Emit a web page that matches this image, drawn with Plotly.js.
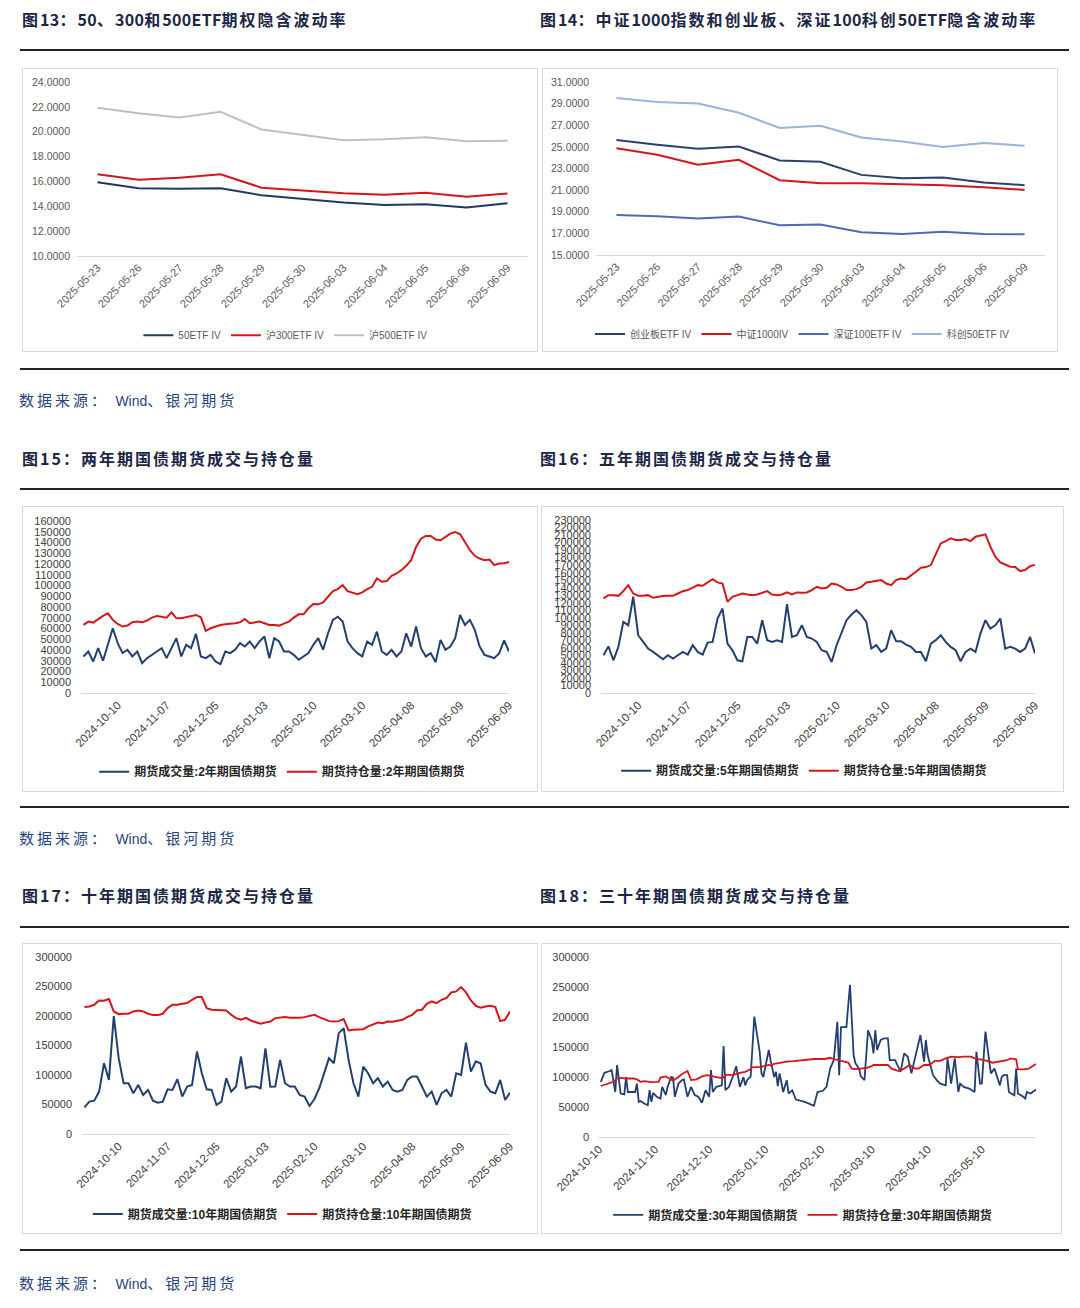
<!DOCTYPE html>
<html><head><meta charset="utf-8">
<script src="https://cdn.plot.ly/plotly-3.0.1.min.js"></script>
<style>
body{margin:0;background:#fff;width:1080px;height:1308px;position:relative;overflow:hidden;font-family:"Noto Sans CJK SC",sans-serif;}
.hdr{position:absolute;font-weight:700;font-size:16px;color:#1c2747;letter-spacing:2px;white-space:nowrap;line-height:20px;}
.hdr .n{letter-spacing:0.3px;}
.src{position:absolute;left:19px;font-size:15px;color:#2a4482;white-space:nowrap;line-height:20px;letter-spacing:3px;}
.src .w{letter-spacing:0;font-family:"Liberation Sans",Arial,sans-serif;font-size:14px;}
.rule{position:absolute;left:20px;width:1049px;height:2px;background:#222;}
.box{position:absolute;border:1px solid #d9d9d9;box-sizing:border-box;}
.plot{position:absolute;}
</style></head><body>

<div class="hdr" style="left:22px;top:9px;">图<span class="n">13</span>：<span class="n">50</span>、<span class="n">300</span>和<span class="n">500ETF</span>期权隐含波动率</div>
<div class="hdr" style="left:540px;top:9px;">图<span class="n">14</span>：中证<span class="n">1000</span>指数和创业板、深证<span class="n">100</span>科创<span class="n">50ETF</span>隐含波动率</div>
<div class="rule" style="top:49px;"></div>
<div class="box" style="left:22px;top:68px;width:516px;height:284px;"></div>
<div class="box" style="left:542px;top:68px;width:516px;height:284px;"></div>
<div id="c13" class="plot" style="left:22px;top:68px;width:516px;height:284px;"></div>
<div id="c14" class="plot" style="left:542px;top:68px;width:516px;height:284px;"></div>
<div class="rule" style="top:368px;"></div>
<div class="src" style="top:390px;">数据来源：&nbsp;<span class="w">Wind</span>、银河期货</div>

<div class="hdr" style="left:22px;top:448px;">图15：两年期国债期货成交与持仓量</div>
<div class="hdr" style="left:540px;top:448px;">图16：五年期国债期货成交与持仓量</div>
<div class="rule" style="top:488px;"></div>
<div class="box" style="left:22px;top:506px;width:516px;height:286px;"></div>
<div class="box" style="left:541px;top:506px;width:523px;height:286px;"></div>
<div id="c15" class="plot" style="left:22px;top:506px;width:516px;height:286px;"></div>
<div id="c16" class="plot" style="left:541px;top:506px;width:523px;height:286px;"></div>
<div class="rule" style="top:806px;"></div>
<div class="src" style="top:828px;">数据来源：&nbsp;<span class="w">Wind</span>、银河期货</div>

<div class="hdr" style="left:22px;top:885px;">图17：十年期国债期货成交与持仓量</div>
<div class="hdr" style="left:540px;top:885px;">图18：三十年期国债期货成交与持仓量</div>
<div class="rule" style="top:926px;"></div>
<div class="box" style="left:22px;top:943px;width:516px;height:291px;"></div>
<div class="box" style="left:541px;top:943px;width:521px;height:291px;"></div>
<div id="c17" class="plot" style="left:22px;top:943px;width:516px;height:291px;"></div>
<div id="c18" class="plot" style="left:541px;top:943px;width:521px;height:291px;"></div>
<div class="rule" style="top:1249px;"></div>
<div class="src" style="top:1273px;">数据来源：&nbsp;<span class="w">Wind</span>、银河期货</div>

<script>
// ---------------- data ----------------
const ivDates = ['2025-05-23','2025-05-26','2025-05-27','2025-05-28','2025-05-29','2025-05-30','2025-06-03','2025-06-04','2025-06-05','2025-06-06','2025-06-09'];
const iv50   = [15.93,15.45,15.42,15.45,14.89,14.60,14.30,14.11,14.17,13.90,14.25];
const iv300  = [16.57,16.14,16.30,16.57,15.50,15.29,15.05,14.92,15.08,14.76,15.02];
const iv500  = [21.92,21.49,21.14,21.60,20.18,19.72,19.32,19.40,19.56,19.24,19.27];
const ivCyb  = [25.63,25.19,24.82,25.04,23.74,23.62,22.41,22.10,22.17,21.70,21.46];
const iv1000 = [24.88,24.27,23.34,23.80,21.92,21.64,21.64,21.52,21.46,21.27,21.02];
const ivSz100= [18.71,18.58,18.37,18.55,17.75,17.81,17.10,16.95,17.16,16.95,16.92];
const ivKc50 = [29.52,29.15,29.02,28.16,26.74,26.95,25.87,25.50,24.98,25.35,25.10];

const tdDates = ['2024-09-11','2024-09-13','2024-09-19','2024-09-23','2024-09-25','2024-09-27','2024-10-08','2024-10-10','2024-10-14','2024-10-16',
 '2024-10-18','2024-10-22','2024-10-24','2024-10-28','2024-10-30','2024-11-01','2024-11-05','2024-11-07','2024-11-11','2024-11-13',
 '2024-11-15','2024-11-19','2024-11-21','2024-11-25','2024-11-27','2024-11-29','2024-12-03','2024-12-05','2024-12-09','2024-12-11',
 '2024-12-13','2024-12-17','2024-12-19','2024-12-23','2024-12-25','2024-12-27','2024-12-31','2025-01-03','2025-01-07','2025-01-09',
 '2025-01-13','2025-01-15','2025-01-17','2025-01-21','2025-01-23','2025-01-27','2025-02-06','2025-02-10','2025-02-12','2025-02-14',
 '2025-02-18','2025-02-20','2025-02-24','2025-02-26','2025-02-28','2025-03-04','2025-03-06','2025-03-10','2025-03-12','2025-03-14',
 '2025-03-18','2025-03-20','2025-03-24','2025-03-26','2025-03-28','2025-04-01','2025-04-03','2025-04-08','2025-04-10','2025-04-14',
 '2025-04-16','2025-04-18','2025-04-22','2025-04-24','2025-04-28','2025-04-30','2025-05-07','2025-05-09','2025-05-13','2025-05-15',
 '2025-05-19','2025-05-21','2025-05-23','2025-05-27','2025-05-29','2025-06-03','2025-06-05','2025-06-09'];
const tdTicks = ['2024-10-10','2024-11-07','2024-12-05','2025-01-03','2025-02-10','2025-03-10','2025-04-08','2025-05-09','2025-06-09'];

const vol2y = [34000,38600,29300,41700,30000,44800,60200,46300,37100,40200,
 34000,38600,27800,32400,35500,38600,41700,32400,41700,51000,
 34000,44800,41700,55000,34000,32400,35500,29300,26900,38600,
 37100,40200,46300,43200,47900,41700,47900,52500,32400,51000,
 47900,38600,38600,35500,30900,34000,37100,44800,51000,40200,
 55600,68000,71000,66400,47900,41700,37100,34000,47900,44800,
 57100,38600,35500,40200,34000,38600,55600,43200,61800,41700,
 34000,37100,28700,49400,40200,43200,51000,72600,63300,68000,
 58700,43200,35500,34000,32400,37100,49000,38600];
const oi2y = [63300,66400,65500,68900,71700,74100,68000,64200,61800,62700,
 65800,66400,65800,67300,70100,71700,70700,70100,75000,69500,
 69500,70700,71700,72600,70400,57800,60200,62100,63300,63900,
 64200,64900,65800,68900,64900,65500,66400,64900,63300,63300,
 62700,64600,66400,70100,73200,73200,78800,82800,82500,84300,
 89600,94800,96700,100400,94800,93600,92000,93600,96700,98800,
 106600,103500,104100,109000,111200,114300,118300,123600,135900,143600,
 146100,146100,142700,142100,145200,148300,149800,147600,140500,132800,
 127600,125100,123600,124200,118900,120500,120800,122000];

const vol5y = [50200,62000,43500,61300,94600,90100,128000,76800,67900,59000,
 54600,50200,44800,50200,45700,50200,54600,51100,63500,54600,
 51100,67000,67900,99000,112300,65700,56800,43500,42200,74600,
 74600,65700,96800,70200,67900,70200,67900,118000,74600,76800,
 90100,74600,72400,67900,56800,54600,41300,63500,80400,96800,
 104400,110100,103500,94600,59000,63500,54600,59000,83500,68800,
 68800,64400,61300,54600,54600,42200,65700,70200,76800,67900,
 61300,56800,42200,54600,59000,54600,79000,96800,85700,90100,
 99000,59000,61300,59000,54600,59000,74600,52400];
const oi5y = [125700,130100,130100,129200,135400,143400,132300,129200,129200,130100,
 126600,127900,128800,129200,129200,132300,135400,136800,139900,143400,
 142500,147000,151400,147000,145600,121200,127900,130100,132300,131000,
 130100,131000,133700,135400,131000,130100,131000,133700,131000,133700,
 133200,133700,136800,141200,139000,139900,145600,144300,141200,136800,
 136800,138100,141200,147000,147900,148800,150100,145600,143400,150100,
 152300,151400,155900,161200,166500,167400,170100,183400,198900,202000,
 205600,203400,203400,204700,202000,207800,209100,210900,194500,181200,
 173600,171000,167900,167400,162100,163400,168700,170100];

const vol10y = [45000,54900,56600,71900,120000,91700,200000,128500,86000,86000,
 69000,83200,66200,74700,56600,53200,54900,75800,74700,92800,
 63400,80400,83200,139800,103000,75800,74700,49200,54900,94500,
 71900,80400,131300,77500,80400,80400,77500,145000,80000,80400,
 125600,86000,80400,80400,66200,63400,47500,58900,77500,103000,
 128500,120000,171000,179400,125600,86000,63400,114300,103000,86000,
 94500,80400,88900,74700,71900,74700,91700,97400,97400,80400,
 63400,71900,49200,69000,74700,63400,103000,100000,155000,105800,
 122800,120000,83200,71900,69000,91700,57700,70200];
const oi10y = [215100,216200,219000,226400,225800,228700,207700,203200,203800,203800,
 207700,209400,207700,203800,201500,201500,203800,213400,219000,219000,
 220700,221900,227500,232100,232100,213400,210600,210600,210600,209400,
 202000,196400,193600,197000,192400,189000,186800,189000,190700,196400,
 197500,198100,197000,196400,197000,198100,200400,202000,198100,194700,
 191300,190700,191300,194700,175500,176600,176600,177700,182300,185100,
 189000,187900,190700,190200,191300,193600,198100,202000,209400,210600,
 220700,224700,221900,227500,230400,240000,241700,249000,240000,226400,
 217300,213900,216200,217300,215100,191300,193600,207700];

const vol30yDates = ['2024-10-11','2024-10-13','2024-10-16','2024-10-17','2024-10-19','2024-10-20','2024-10-22','2024-10-24','2024-10-25','2024-10-26',
 '2024-10-30','2024-10-31','2024-11-01','2024-11-02','2024-11-04','2024-11-06','2024-11-07','2024-11-08','2024-11-09','2024-11-11',
 '2024-11-13','2024-11-14','2024-11-16','2024-11-17','2024-11-19','2024-11-20','2024-11-21','2024-11-23','2024-11-25','2024-11-26',
 '2024-11-28','2024-11-30','2024-12-02','2024-12-04','2024-12-06','2024-12-08','2024-12-10','2024-12-11','2024-12-12','2024-12-14',
 '2024-12-17','2024-12-18','2024-12-19','2024-12-21','2024-12-23','2024-12-25','2024-12-27','2024-12-29','2024-12-30','2024-12-31',
 '2025-01-02','2025-01-04','2025-01-07','2025-01-08','2025-01-09','2025-01-12','2025-01-13','2025-01-15','2025-01-16','2025-01-17',
 '2025-01-18','2025-01-20','2025-01-22','2025-01-23','2025-01-25','2025-01-27','2025-02-01','2025-02-06','2025-02-08','2025-02-11',
 '2025-02-13','2025-02-15','2025-02-17','2025-02-19','2025-02-20','2025-02-21','2025-02-24','2025-02-26','2025-02-28','2025-03-01',
 '2025-03-03','2025-03-04','2025-03-06','2025-03-08','2025-03-10','2025-03-11','2025-03-12','2025-03-13','2025-03-15','2025-03-17',
 '2025-03-19','2025-03-20','2025-03-23','2025-03-26','2025-03-28','2025-03-30','2025-04-01','2025-04-04','2025-04-06','2025-04-08',
 '2025-04-09','2025-04-10','2025-04-13','2025-04-15','2025-04-17','2025-04-20','2025-04-21','2025-04-23','2025-04-25','2025-04-27',
 '2025-04-28','2025-04-30','2025-05-03','2025-05-06','2025-05-07','2025-05-09','2025-05-10','2025-05-12','2025-05-14','2025-05-15',
 '2025-05-17','2025-05-20','2025-05-21','2025-05-22','2025-05-24','2025-05-25','2025-05-27','2025-05-28','2025-05-29','2025-05-30',
 '2025-06-02','2025-06-03','2025-06-04','2025-06-06','2025-06-09'];
const vol30y = [92000,107000,110000,111500,75000,120000,72500,71000,100000,75000,
 75000,89000,58500,60000,55800,53000,78000,58500,73600,67000,
 64000,83600,69700,83600,100000,99000,67000,89000,94800,96000,
 67000,83600,69700,67000,57000,78000,67000,111500,75000,83600,
 86000,151700,78000,83600,100000,118000,83600,100000,86000,94800,
 101000,200700,142000,106000,100000,145000,128000,100000,108700,84800,
 106000,75000,94800,72500,78000,62500,58500,51900,75000,77000,
 83600,114000,128000,192000,103000,183000,183000,253700,136600,122700,
 114000,101000,94800,178000,161700,139400,178000,145000,161700,164500,
 164500,128000,128000,108700,139400,133800,106000,147800,170000,125500,
 161700,136600,103000,94800,89000,86000,131000,89000,131000,75000,
 89000,83600,80800,75000,142000,89000,89000,175600,122700,106000,
 114000,86000,100000,103000,103000,75000,71400,69700,114000,72500,
 67000,64000,75000,72500,79000];
const oi30yDates = ['2024-10-11','2024-10-15','2024-10-18','2024-10-20','2024-10-21','2024-10-25','2024-10-29','2024-10-31','2024-11-02','2024-11-04',
 '2024-11-08','2024-11-12','2024-11-13','2024-11-16','2024-11-18','2024-11-20','2024-11-23','2024-11-25','2024-11-28','2024-11-30',
 '2024-12-03','2024-12-06','2024-12-09','2024-12-13','2024-12-16','2024-12-18','2024-12-19','2024-12-23','2024-12-27','2024-12-30',
 '2025-01-01','2025-01-03','2025-01-08','2025-01-12','2025-01-13','2025-01-15','2025-01-18','2025-01-22','2025-01-26','2025-02-01',
 '2025-02-06','2025-02-12','2025-02-15','2025-02-17','2025-02-21','2025-02-25','2025-02-27','2025-03-01','2025-03-04','2025-03-07',
 '2025-03-10','2025-03-11','2025-03-15','2025-03-19','2025-03-21','2025-03-23','2025-03-25','2025-03-28','2025-03-31','2025-04-03',
 '2025-04-05','2025-04-08','2025-04-11','2025-04-14','2025-04-17','2025-04-20','2025-04-23','2025-04-27','2025-04-30','2025-05-04',
 '2025-05-06','2025-05-09','2025-05-13','2025-05-16','2025-05-19','2025-05-21','2025-05-24','2025-05-26','2025-05-29','2025-05-30',
 '2025-06-02','2025-06-05','2025-06-07','2025-06-09'];
const oi30y = [85000,89000,92000,97500,98500,97500,97500,96000,92000,93000,
 91500,92000,99000,101000,97500,93700,100000,105000,110000,94800,
 96000,101000,103000,101000,98500,99000,104000,103000,107000,108500,
 111500,116000,117000,120000,119000,122000,124000,125500,126500,128000,
 130000,130000,132000,130000,127000,124000,114000,113000,114000,115000,
 118000,120000,120000,120000,114000,112600,110000,114000,120000,114000,
 114000,120000,120000,127000,127000,131000,134000,133000,134000,134000,
 131000,129500,127000,123800,125500,125500,128000,131000,129500,112600,
 112600,114000,118000,121600];
const t30Ticks = ['2024-10-10','2024-11-10','2024-12-10','2025-01-10','2025-02-10','2025-03-10','2025-04-10','2025-05-10'];

// ---------------- styles ----------------
const FONT = '"Liberation Sans", Arial, "Noto Sans CJK SC", sans-serif';
const NAVY = '#1f3864', RED = '#d7141a', GRAY = '#bfbfbf';
const BLUE2 = '#4a6cb8', LIGHT = '#9bb1e0';
const VBLUE = '#233f70';
const cfg = {staticPlot:true, displayModeBar:false};

function ln(x, y, name, color, w){
  return {x:x, y:y, name:name, type:'scatter', mode:'lines', line:{color:color, width:w||2}, hoverinfo:'skip'};
}

function ivLayout(w, h, m, yr, legx, legy){
  return {
    width:w, height:h, margin:Object.assign({autoexpand:false}, m),
    paper_bgcolor:'rgba(0,0,0,0)', plot_bgcolor:'rgba(0,0,0,0)',
    font:{family:FONT, size:10, color:'#595959'},
    xaxis:{type:'category', range:[-0.5,10.5], tickmode:'array', tickvals:ivDates, tickangle:-45,
      showline:true, linecolor:'#d9d9d9', linewidth:1, showgrid:false, ticks:'', tickfont:{size:11, color:'#595959'}},
    yaxis:{range:yr, dtick:2, tick0:yr[0], tickformat:'.4f', showgrid:false, zeroline:false, showline:false,
      ticks:'', ticklabelstandoff:6, tickfont:{size:10.5, color:'#595959'}},
    showlegend:true,
    legend:{orientation:'h', x:legx, xanchor:'center', y:legy, yanchor:'middle',
      font:{size:10, color:'#595959'}, itemwidth:30, bgcolor:'rgba(0,0,0,0)'}
  };
}

function volLayout(w, h, m, xaxis, yr, dt, legx, legy){
  return {
    width:w, height:h, margin:Object.assign({autoexpand:false}, m),
    paper_bgcolor:'rgba(0,0,0,0)', plot_bgcolor:'rgba(0,0,0,0)',
    font:{family:FONT, size:11, color:'#404040'},
    xaxis:Object.assign({tickangle:-45, showline:true, linecolor:'#d9d9d9', linewidth:1, showgrid:false,
      ticks:'', zeroline:false, tickfont:{size:11.5, color:'#404040'}}, xaxis),
    yaxis:{range:yr, dtick:dt, tick0:0, tickformat:'d', showgrid:false, zeroline:false, showline:false,
      ticks:'', ticklabelstandoff:9, tickfont:{size:11, color:'#404040'}},
    showlegend:true,
    legend:{orientation:'h', x:legx, xanchor:'center', y:legy, yanchor:'middle',
      font:{size:12, color:'#262626', weight:700}, itemwidth:30, bgcolor:'rgba(0,0,0,0)'}
  };
}

const tdX = {type:'category', range:[-0.5, tdDates.length-1], tickmode:'array', tickvals:tdTicks, ticktext:tdTicks};

// chart 13
Plotly.newPlot('c13', [
  ln(ivDates, iv50, '50ETF IV', NAVY),
  ln(ivDates, iv300, '沪300ETF IV', RED),
  ln(ivDates, iv500, '沪500ETF IV', GRAY)
], ivLayout(516, 284, {l:55,r:10,t:14,b:96}, [10,24], 0.462, -0.456), cfg);

// chart 14
Plotly.newPlot('c14', [
  ln(ivDates, ivCyb, '创业板ETF IV', '#2e3f6e'),
  ln(ivDates, iv1000, '中证1000IV', RED),
  ln(ivDates, ivSz100, '深证100ETF IV', BLUE2),
  ln(ivDates, ivKc50, '科创50ETF IV', LIGHT)
], ivLayout(516, 284, {l:54,r:13,t:14,b:97}, [15,31], 0.46, -0.457), cfg);

// chart 15
Plotly.newPlot('c15', [
  ln(tdDates, vol2y, '期货成交量:2年期国债期货', VBLUE),
  ln(tdDates, oi2y, '期货持仓量:2年期国债期货', RED)
], volLayout(516, 286, {l:59,r:29,t:15,b:99}, tdX, [0,160000], 10000, 0.47, -0.458), cfg);

// chart 16
Plotly.newPlot('c16', [
  ln(tdDates, vol5y, '期货成交量:5年期国债期货', VBLUE),
  ln(tdDates, oi5y, '期货持仓量:5年期国债期货', RED)
], volLayout(523, 286, {l:60,r:29,t:14,b:99}, tdX, [0,230000], 10000, 0.468, -0.449), cfg);

// chart 17
Plotly.newPlot('c17', [
  ln(tdDates, vol10y, '期货成交量:10年期国债期货', VBLUE),
  ln(tdDates, oi10y, '期货持仓量:10年期国债期货', RED)
], volLayout(516, 291, {l:60,r:28,t:14,b:100}, tdX, [0,300000], 50000, 0.468, -0.452), cfg);

// chart 18
Plotly.newPlot('c18', [
  ln(vol30yDates, vol30y, '期货成交量:30年期国债期货', VBLUE, 1.8),
  ln(oi30yDates, oi30y, '期货持仓量:30年期国债期货', RED, 1.8)
], volLayout(521, 291, {l:58,r:26,t:14,b:97},
  {type:'date', range:['2024-10-10','2025-06-09'], tickmode:'array', tickvals:t30Ticks, tickformat:'%Y-%m-%d'},
  [0,300000], 50000, 0.466, -0.433), cfg);
</script>
</body></html>
